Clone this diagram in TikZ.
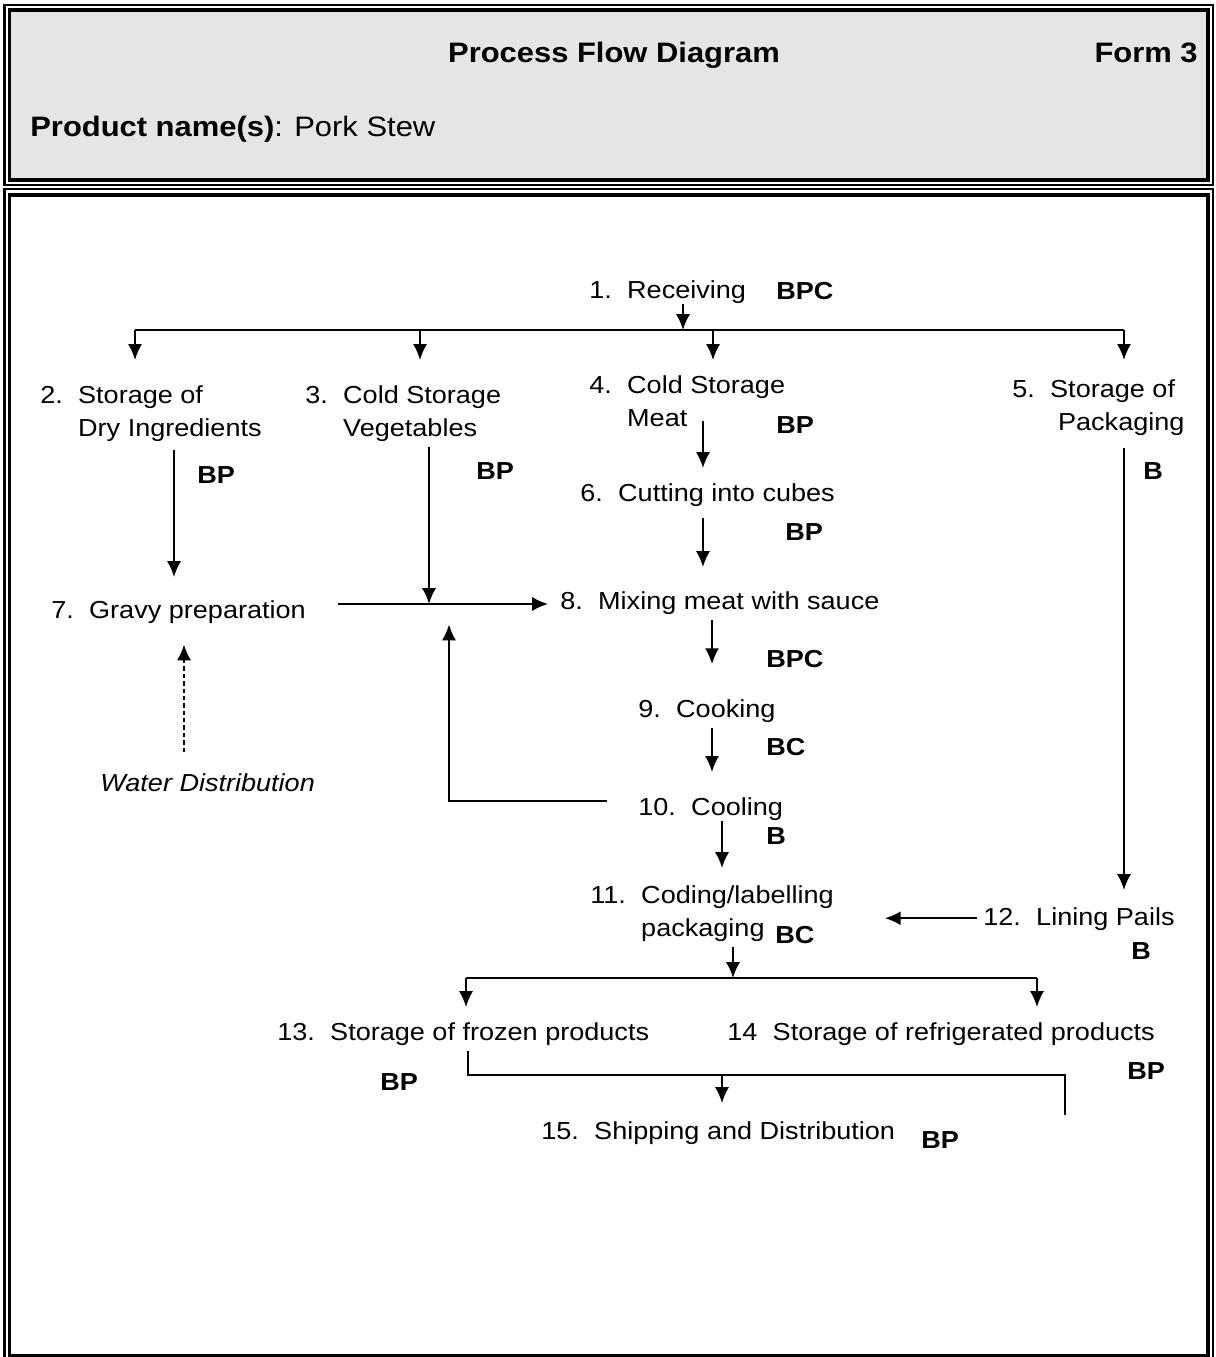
\documentclass[tikz,border=0pt]{standalone}
\usepackage{fontspec}
\setmainfont{Liberation Sans}[FakeStretch=1.1]
\usetikzlibrary{arrows.meta}
\definecolor{headgray}{RGB}{229,229,229}
\newcommand{\bodyfont}{\fontsize{14pt}{19.3pt}\selectfont}
\newcommand{\headfont}{\fontsize{16pt}{20pt}\selectfont}
\newcommand{\flowstep}[2]{\begin{tabular}[t]{@{}l@{\hspace{8.7pt}}l@{}}#1 & #2\end{tabular}}
\tikzset{
  stepnode/.style={anchor=base west, inner sep=0pt},
  hazard/.style={anchor=base west, inner sep=0pt, font=\bodyfont\bfseries},
  arr/.style={-{Latex[length=9pt,width=8pt]}, line width=1.1pt},
}

\begin{document}
\begin{tikzpicture}[x=0.02cm, y=-0.02cm, every node/.style={font=\bodyfont}]
        \useasboundingbox (0, 0) rectangle (1215, 1357);
        \draw [line width=1.4pt] (4.5, 5) rectangle (1213, 185);
        \draw [fill=headgray, line width=2pt] (9.5, 10) rectangle (1208, 180);
        \draw [line width=1.4pt] (4.5, 189) rectangle (1213, 1380);
        \draw [line width=2pt] (9.5, 195) rectangle (1208, 1356);

        \node [anchor=base, inner sep=0pt, font=\headfont\bfseries] (title) at (614, 62) {Process Flow Diagram};
        \node [anchor=base east, inner sep=0pt, font=\headfont\bfseries] (form) at (1198, 62) {Form 3};
        \node [anchor=base west, inner sep=0pt, font=\headfont] (prod) at (30, 136) {\textbf{Product name(s)}: Pork Stew};

        \node [stepnode] (recv) at (589, 298) {\flowstep{1.}{Receiving}};
        \node [stepnode] (dry) at (40, 403) {\flowstep{2.}{Storage of\\ & Dry Ingredients}};
        \node [stepnode] (veg) at (305, 403) {\flowstep{3.}{Cold Storage\\ & Vegetables}};
        \node [stepnode] (meat) at (589, 393) {\flowstep{4.}{Cold Storage\\ & Meat}};
        \node [stepnode] (pack) at (1012, 397) {\flowstep{5.}{Storage of\\ & \hspace{4.5pt}Packaging}};
        \node [stepnode] (cut) at (580, 501) {\flowstep{6.}{Cutting into cubes}};
        \node [stepnode] (gravy) at (51, 618) {\flowstep{7.}{Gravy preparation}};
        \node [stepnode] (mix) at (560, 609) {\flowstep{8.}{Mixing meat with sauce}};
        \node [stepnode] (cook) at (638, 717) {\flowstep{9.}{Cooking}};
        \node [stepnode] (cool) at (638, 815) {\flowstep{10.}{Cooling}};
        \node [stepnode] (code) at (590, 903) {\flowstep{11.}{Coding/labelling\\ & packaging}};
        \node [stepnode] (pails) at (983, 925) {\flowstep{12.}{Lining Pails}};
        \node [stepnode] (frozen) at (277, 1040) {\flowstep{13.}{Storage of frozen products}};
        \node [stepnode] (fridge) at (727, 1040) {\flowstep{14}{Storage of refrigerated products}};
        \node [stepnode] (ship) at (541, 1139) {\flowstep{15.}{Shipping and Distribution}};
        \node [stepnode, font=\bodyfont\itshape] (water) at (100, 791) {Water Distribution};

        \node [hazard] (recvc) at (776, 299) {BPC};
        \node [hazard] (dryc) at (197, 483) {BP};
        \node [hazard] (vegc) at (476, 479) {BP};
        \node [hazard] (meatc) at (776, 433) {BP};
        \node [hazard] (packc) at (1143, 479) {B};
        \node [hazard] (cutc) at (785, 540) {BP};
        \node [hazard] (mixc) at (766, 667) {BPC};
        \node [hazard] (cookc) at (766, 755) {BC};
        \node [hazard] (coolc) at (766, 844) {B};
        \node [hazard] (codec) at (775, 943) {BC};
        \node [hazard] (pailsc) at (1131, 959) {B};
        \node [hazard] (frozenc) at (380, 1090) {BP};
        \node [hazard] (fridgec) at (1127, 1079) {BP};
        \node [hazard] (shipc) at (921, 1148) {BP};

        \coordinate (split) at (683, 330);
        \coordinate (splitL) at (135, 330);
        \coordinate (splitB) at (420, 330);
        \coordinate (splitC) at (713, 330);
        \coordinate (splitR) at (1124, 330);
        \coordinate (join) at (429, 604);
        \coordinate (back) at (449, 801);
        \coordinate (fork) at (733, 978);
        \coordinate (forkL) at (466, 978);
        \coordinate (forkR) at (1037, 978);
        \coordinate (merge) at (722, 1075);
        \coordinate (turn) at (1065, 1075);

        \draw [arr, shorten <=-2.8pt] (recv.south -| split) -- (split);
        \draw [line width=1pt] (splitL) -- (splitR);
        \draw [arr, shorten >=10.8pt] (splitL) -- (splitL |- dry.north);
        \draw [arr, shorten >=10.8pt] (splitB) -- (splitB |- veg.north);
        \draw [arr, shorten >=5.1pt] (splitC) -- (splitC |- meat.north);
        \draw [arr, shorten >=7.4pt] (splitR) -- (splitR |- pack.north);
        \draw [arr, shorten <=1.7pt, shorten >=9.6pt] (174,0 |- dry.south) -- (174,0 |- gravy.north);
        \draw [arr] (429,0 |- veg.south) -- (join);
        \draw [arr, shorten <=-9.6pt, shorten >=5.1pt] (703,0 |- meat.south) -- (703,0 |- cut.north);
        \draw [arr, shorten <=3.4pt, shorten >=10.2pt] (703,0 |- cut.south) -- (703,0 |- mix.north);
        \draw [arr, shorten <=18.1pt, shorten >=6.8pt] (gravy.east |- join) -- (mix.west |- join);
        \draw [arr, shorten <=17.6pt, shorten >=2.8pt] (cool.west |- back) -- (back) -- (back |- mix.south);
        \draw [arr, shorten >=16.4pt] (712,0 |- mix.south) -- (712,0 |- cook.north);
        \draw [arr, shorten >=10.8pt] (712,0 |- cook.south) -- (712,0 |- cool.north);
        \draw [arr, shorten <=-2.8pt, shorten >=6.2pt] (722,0 |- cool.south) -- (722,0 |- code.north);
        \draw [arr, shorten <=4pt, shorten >=6.2pt] (pack.south -| splitR) -- (pails.north -| splitR);
        \draw [arr, shorten <=3.4pt, shorten >=28.9pt] (pails.west) -- (pails.west -| code.east);
        \draw [arr] (code.south -| fork) -- (fork);
        \draw [line width=1pt] (forkL) -- (forkR);
        \draw [arr, shorten >=5.1pt] (forkL) -- (forkL |- frozen.north);
        \draw [arr, shorten >=5.1pt] (forkR) -- (forkR |- fridge.north);
        \draw [line width=0.6pt] (468,0 |- frozen.south) -- (468,0 |- turn) -- (turn) -- (turn |- ship.north);
        \draw [arr, shorten >=6.8pt] (merge) -- (merge |- ship.north);
        \draw [arr, dash pattern=on 2.5pt off 1.7pt, shorten <=11.9pt, shorten >=9.1pt] (184,0 |- water.north) -- (184,0 |- gravy.south);
\end{tikzpicture}
\end{document}
